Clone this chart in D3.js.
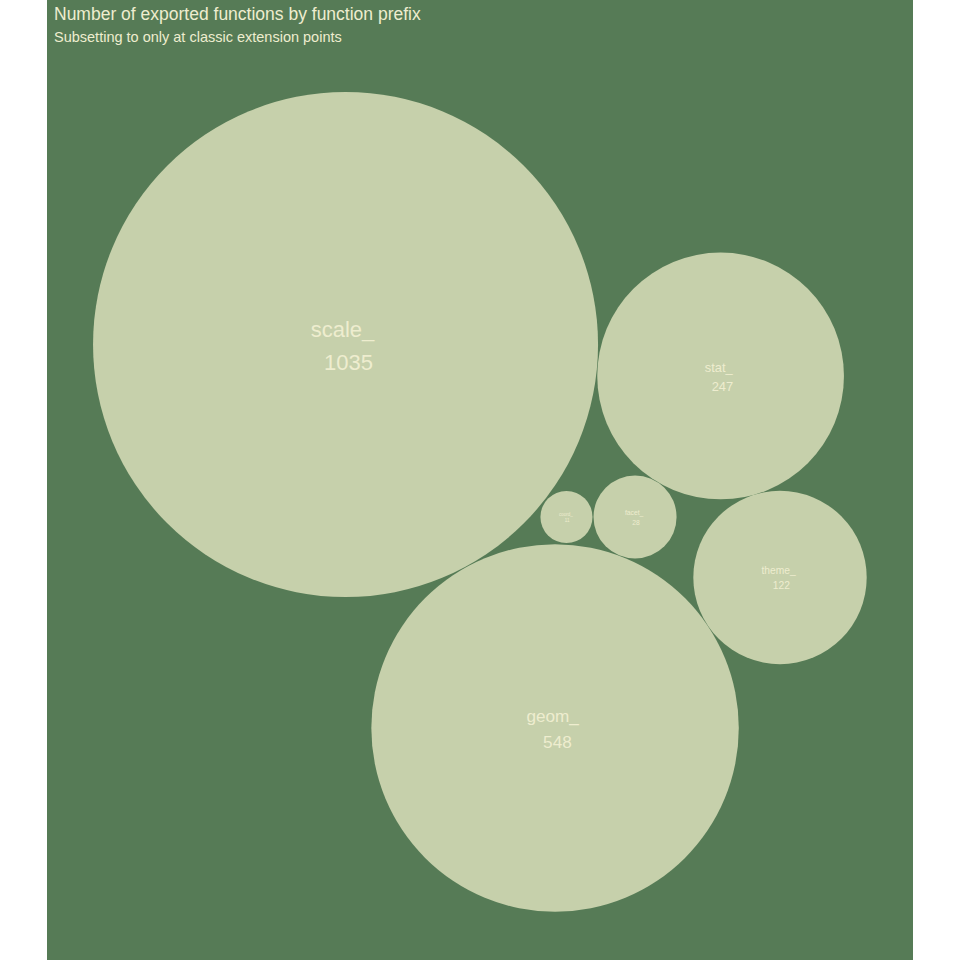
<!DOCTYPE html>
<html>
<head>
<meta charset="utf-8">
<script src="https://cdn.jsdelivr.net/npm/d3@7"></script>
<style>
  html, body { margin: 0; padding: 0; background: #ffffff; }
  svg { display: block; }
  text { font-family: "Liberation Sans", Arial, Helvetica, sans-serif; }
</style>
</head>
<body>
<svg id="chart" width="960" height="960"></svg>
<script>
// ---- data ----
const prefixes = ["scale_", "geom_", "stat_", "theme_", "facet_", "coord_"];
const counts   = [1035, 548, 247, 122, 28, 11];
// packed-circle centres (layout units, circle area = count)
const centerX  = [-9.63, 5.43, 17.33, 21.60, 11.18, 6.25];
const centerY  = [11.32, -16.25, 9.06, -5.43, -1.08, -1.08];
const titleText = "Number of exported functions by function prefix";
const subtitleText = "Subsetting to only at classic extension points";

// ---- styles ----
const W = 960, H = 960;
const panel = { x0: 47, x1: 913, y0: 0, y1: 960 };
const bgColor = "#567b56";
const fillColor = "#c6d0ab";
const textColor = "#eeedcf";

const svg = d3.select("#chart");

// scales (equal aspect)
const x = d3.scaleLinear().domain([-31.09, 31.16]).range([panel.x0, panel.x1]);
const y = d3.scaleLinear().domain([36.09, -32.93]).range([panel.y0, panel.y1]);
const rPx = c => x(Math.sqrt(c / Math.PI)) - x(0);

// label size: ggplot-like area scaling between min and max counts
const cMin = d3.min(counts), cMax = d3.max(counts);
const resc = d3.scaleLinear().domain([cMin, cMax]).range([0, 1]);
const sizeScale = d3.scaleLinear().domain([0, 1]).range([4.5, 22]);
const fontSize = c => sizeScale(Math.sqrt(resc(c)));

svg.append("rect")
  .attr("x", panel.x0).attr("y", panel.y0)
  .attr("width", panel.x1 - panel.x0).attr("height", panel.y1 - panel.y0)
  .attr("fill", bgColor);

const data = prefixes.map((p, i) => ({ prefix: p, n: counts[i], cx: centerX[i], cy: centerY[i] }));

svg.append("g").selectAll("circle")
  .data(data).join("circle")
  .attr("cx", d => x(d.cx))
  .attr("cy", d => y(d.cy))
  .attr("r", d => rPx(d.n))
  .attr("fill", fillColor);

const labels = svg.append("g").selectAll("text")
  .data(data).join("text")
  .attr("xml:space", "preserve")
  .style("white-space", "pre")
  .attr("text-anchor", "middle")
  .attr("fill", textColor)
  .attr("font-size", d => fontSize(d.n))
  .attr("x", d => x(d.cx))
  .attr("y", d => y(d.cy) - 0.33 * fontSize(d.n));

labels.append("tspan")
  .attr("x", d => x(d.cx))
  .text(d => d.prefix + " ");
labels.append("tspan")
  .attr("x", d => x(d.cx))
  .attr("dy", d => 1.48 * fontSize(d.n))
  .text(d => " " + d.n);

svg.append("text")
  .attr("x", 54).attr("y", 20)
  .attr("fill", textColor)
  .attr("font-size", 17.5)
  .text(titleText);

svg.append("text")
  .attr("x", 54).attr("y", 42)
  .attr("fill", textColor)
  .attr("font-size", 14.5)
  .text(subtitleText);
</script>
</body>
</html>
